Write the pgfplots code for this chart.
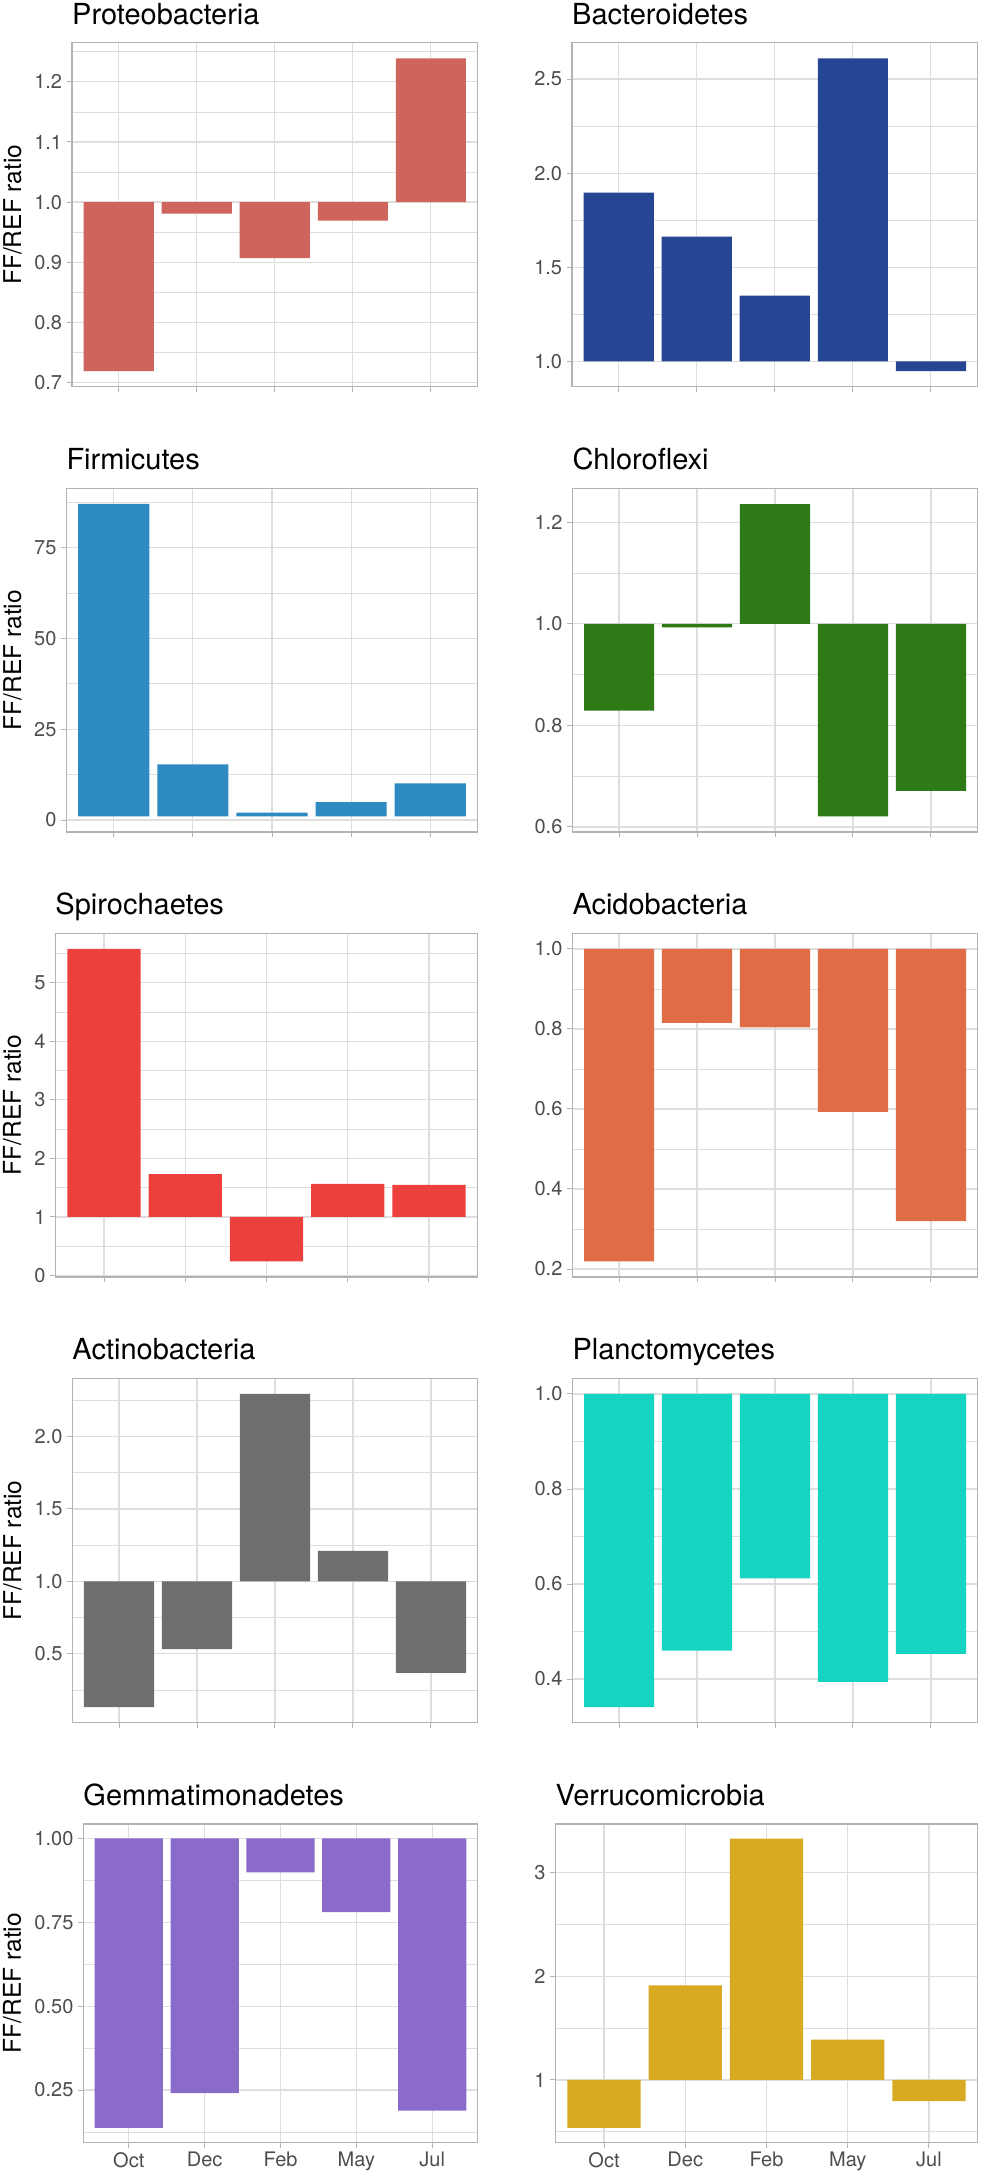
\documentclass[border=0pt]{standalone}
\usepackage{fontspec}
\setmainfont{TeX Gyre Heros}
\usepackage{pgfplots}
\pgfplotsset{compat=1.18}
\usepackage{pgfplotstable}

\definecolor{grid87}{HTML}{DEDEDE}
\definecolor{grey70}{HTML}{B3B3B3}
\definecolor{grey30}{HTML}{4D4D4D}
\definecolor{cProteo}{HTML}{CF645C}
\definecolor{cBact}{HTML}{264592}
\definecolor{cFirm}{HTML}{2E8BC0}
\definecolor{cChlo}{HTML}{2E7A17}
\definecolor{cSpir}{HTML}{EC403D}
\definecolor{cAcid}{HTML}{E06C45}
\definecolor{cActi}{HTML}{6E6E6E}
\definecolor{cPlan}{HTML}{15D4C1}
\definecolor{cGemm}{HTML}{8A6BC9}
\definecolor{cVerr}{HTML}{D8AA22}

% columns: x, base = min(1, ratio), dev = |ratio - 1|
\pgfplotstableread{
x base dev
0 0.719 0.281
1 0.981 0.019
2 0.907 0.093
3 0.969 0.031
4 1.000 0.239
}\tProteo
\pgfplotstableread{
x base dev
0 1.000 0.896
1 1.000 0.662
2 1.000 0.349
3 1.000 1.610
4 0.948 0.052
}\tBact
\pgfplotstableread{
x base dev
0 1 86.0
1 1 14.3
2 1 1.0
3 1 3.9
4 1 9.1
}\tFirm
\pgfplotstableread{
x base dev
0 0.829 0.171
1 0.993 0.007
2 1.000 0.236
3 0.621 0.379
4 0.671 0.329
}\tChlo
\pgfplotstableread{
x base dev
0 1.00 4.580
1 1.00 0.730
2 0.24 0.760
3 1.00 0.565
4 1.00 0.548
}\tSpir
\pgfplotstableread{
x base dev
0 0.219 0.781
1 0.815 0.185
2 0.804 0.196
3 0.593 0.407
4 0.320 0.680
}\tAcid
\pgfplotstableread{
x base dev
0 0.132 0.868
1 0.532 0.468
2 1.000 1.294
3 1.000 0.210
4 0.369 0.631
}\tActi
\pgfplotstableread{
x base dev
0 0.341 0.659
1 0.460 0.540
2 0.612 0.388
3 0.394 0.606
4 0.453 0.547
}\tPlan
\pgfplotstableread{
x base dev
0 0.137 0.863
1 0.241 0.759
2 0.899 0.101
3 0.780 0.220
4 0.1885 0.8115
}\tGemm
\pgfplotstableread{
x base dev
0 0.538 0.462
1 1.000 0.913
2 1.000 2.330
3 1.000 0.388
4 0.795 0.205
}\tVerr

\pgfplotsset{
  every axis title/.style={at={(axis description cs:0,1)}, anchor=base west,
      inner sep=0pt, yshift=18.7pt, font=\fontsize{29}{35}\selectfont, text=black},
  ggpanel/.style={
    scale only axis,
    anchor=north west,
    ybar stacked, bar width=0.9,
    xmin=-0.6, xmax=4.6,
    xtick={0,1,2,3,4},
    xticklabels={},
    tick align=outside,
    xtick pos=bottom, ytick pos=left,
    major tick length=5.3pt,
    minor tick length=0pt,
    tick style={draw=grey70, line width=1pt},
    axis line style={draw=grey70, line width=1.3pt},
    xmajorgrids, ymajorgrids, yminorgrids,
    major grid style={draw=grid87, line width=1.2pt},
    minor grid style={draw=grid87, line width=0.7pt},
    ticklabel style={font=\fontsize{20}{24}\selectfont, text=grey30, inner sep=4.4pt},
    ylabel style={font=\fontsize{24.5}{29}\selectfont, anchor=base, inner sep=0pt},
  },
  ggylab/.style={ylabel={FF/REF ratio}, ylabel style={at={(axis description cs:#1,0.5)}}},
}

\newcommand{\bars}[2]{%
  \addplot[fill=none, draw=none] table[x=x, y=base]{#1};
  \addplot[fill=#2, draw=none] table[x=x, y=dev]{#1};
}

\begin{document}
\begin{tikzpicture}
\path[use as bounding box] (0pt,0pt) rectangle (982pt,-2177pt);

% Row 1
\begin{axis}[ggpanel, at={(72pt,-42.7pt)}, width=405.7pt, height=344pt,
  title={Proteobacteria}, ggylab=-0.1257,
  ymin=0.693, ymax=1.265,
  ytick={0.7,0.8,0.9,1.0,1.1,1.2}, yticklabels={0.7,0.8,0.9,1.0,1.1,1.2},
  minor ytick={0.75,0.85,0.95,1.05,1.15,1.25}]
  \bars{\tProteo}{cProteo}
\end{axis}
\begin{axis}[ggpanel, at={(572pt,-42.7pt)}, width=405.7pt, height=344pt,
  title={Bacteroidetes},
  ymin=0.865, ymax=2.693,
  ytick={1.0,1.5,2.0,2.5}, yticklabels={1.0,1.5,2.0,2.5},
  minor ytick={1.25,1.75,2.25}]
  \bars{\tBact}{cBact}
\end{axis}

% Row 2
\begin{axis}[ggpanel, at={(66.3pt,-488.3pt)}, width=411.4pt, height=343.7pt,
  title={Firmicutes}, ggylab=-0.1101,
  ymin=-3.3, ymax=91.3,
  ytick={0,25,50,75}, yticklabels={0,25,50,75},
  minor ytick={12.5,37.5,62.5,87.5}]
  \bars{\tFirm}{cFirm}
\end{axis}
\begin{axis}[ggpanel, at={(572.3pt,-488.3pt)}, width=405.4pt, height=343.7pt,
  title={Chloroflexi},
  ymin=0.59, ymax=1.267,
  ytick={0.6,0.8,1.0,1.2}, yticklabels={0.6,0.8,1.0,1.2},
  minor ytick={0.7,0.9,1.1}]
  \bars{\tChlo}{cChlo}
\end{axis}

% Row 3
\begin{axis}[ggpanel, at={(55.3pt,-933.3pt)}, width=422.4pt, height=343.7pt,
  title={Spirochaetes}, ggylab=-0.0812,
  ymin=-0.027, ymax=5.847,
  ytick={0,1,2,3,4,5}, yticklabels={0,1,2,3,4,5},
  minor ytick={0.5,1.5,2.5,3.5,4.5,5.5}]
  \bars{\tSpir}{cSpir}
\end{axis}
\begin{axis}[ggpanel, at={(572.3pt,-933.3pt)}, width=405.4pt, height=343.7pt,
  title={Acidobacteria},
  ymin=0.18, ymax=1.039,
  ytick={0.2,0.4,0.6,0.8,1.0}, yticklabels={0.2,0.4,0.6,0.8,1.0},
  minor ytick={0.3,0.5,0.7,0.9}]
  \bars{\tAcid}{cAcid}
\end{axis}

% Row 4
\begin{axis}[ggpanel, at={(72.3pt,-1378.3pt)}, width=405.4pt, height=344.4pt,
  title={Actinobacteria}, ggylab=-0.1265,
  ymin=0.024, ymax=2.402,
  ytick={0.5,1.0,1.5,2.0}, yticklabels={0.5,1.0,1.5,2.0},
  minor ytick={0.25,0.75,1.25,1.75,2.25}]
  \bars{\tActi}{cActi}
\end{axis}
\begin{axis}[ggpanel, at={(572.3pt,-1378.3pt)}, width=405.4pt, height=344.4pt,
  title={Planctomycetes},
  ymin=0.308, ymax=1.033,
  ytick={0.4,0.6,0.8,1.0}, yticklabels={0.4,0.6,0.8,1.0},
  minor ytick={0.5,0.7,0.9}]
  \bars{\tPlan}{cPlan}
\end{axis}

% Row 5
\begin{axis}[ggpanel, at={(83.3pt,-1824pt)}, width=394.4pt, height=318.3pt,
  title={Gemmatimonadetes}, ggylab=-0.158,
  ymin=0.094, ymax=1.043,
  ytick={0.25,0.5,0.75,1.0}, yticklabels={0.25,0.50,0.75,1.00},
  minor ytick={0.125,0.375,0.625,0.875},
  xticklabels={Oct,Dec,Feb,May,Jul}]
  \bars{\tGemm}{cGemm}
\end{axis}
\begin{axis}[ggpanel, at={(555.3pt,-1824pt)}, width=422.4pt, height=318.3pt,
  title={Verrucomicrobia},
  ymin=0.398, ymax=3.47,
  ytick={1,2,3}, yticklabels={1,2,3},
  minor ytick={0.5,1.5,2.5},
  xticklabels={Oct,Dec,Feb,May,Jul}]
  \bars{\tVerr}{cVerr}
\end{axis}
\end{tikzpicture}
\end{document}
